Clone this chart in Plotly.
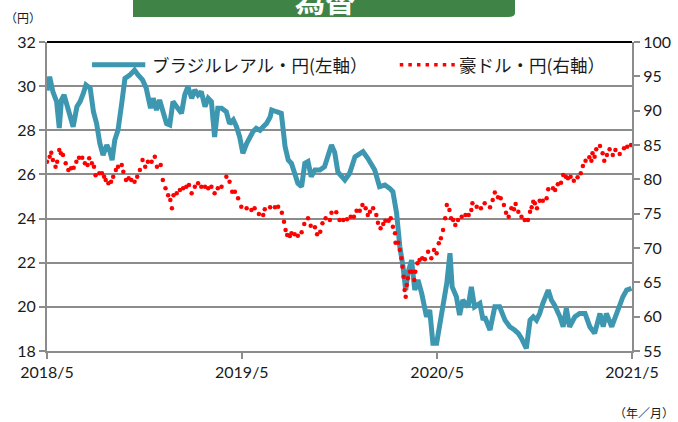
import plotly.graph_objects as go

# ブラジルレアル・円 (left axis)
brl_dates = [
    "2018-05-01","2018-05-06","2018-05-12","2018-05-19","2018-05-24","2018-05-28","2018-06-02","2018-06-07",
    "2018-06-13","2018-06-19","2018-06-26","2018-07-02","2018-07-08","2018-07-13","2018-07-21","2018-07-27",
    "2018-08-02","2018-08-08","2018-08-14","2018-08-21","2018-08-27","2018-08-31","2018-09-05","2018-09-11",
    "2018-09-18","2018-09-24","2018-10-03","2018-10-12","2018-10-19","2018-10-27","2018-11-03","2018-11-11",
    "2018-11-16","2018-11-22","2018-11-28","2018-12-04","2018-12-11","2018-12-17","2018-12-23","2018-12-30",
    "2019-01-08","2019-01-14","2019-01-20","2019-01-27","2019-02-02","2019-02-08","2019-02-14","2019-02-21",
    "2019-02-27","2019-03-05","2019-03-11","2019-03-17","2019-03-24","2019-04-02","2019-04-08","2019-04-15",
    "2019-04-21","2019-04-27","2019-05-03","2019-05-10","2019-05-16","2019-05-22","2019-05-28","2019-06-04",
    "2019-06-10","2019-06-16","2019-06-23","2019-06-26","2019-07-05","2019-07-14","2019-07-21","2019-07-27",
    "2019-08-02","2019-08-08","2019-08-14","2019-08-21","2019-08-27","2019-09-02","2019-09-08","2019-09-15",
    "2019-09-24","2019-10-03","2019-10-10","2019-10-16","2019-10-22","2019-10-28","2019-11-10","2019-11-19",
    "2019-11-29","2019-12-14","2019-12-23","2020-01-05","2020-01-14","2020-01-24","2020-02-02","2020-02-08",
    "2020-02-15","2020-02-21","2020-02-27","2020-03-03","2020-03-07","2020-03-14","2020-03-20","2020-03-26",
    "2020-04-02","2020-04-11","2020-04-17","2020-04-23","2020-04-30","2020-05-06","2020-05-12","2020-05-19",
    "2020-05-25","2020-05-29","2020-06-06","2020-06-12","2020-06-18","2020-06-28","2020-07-04","2020-07-10",
    "2020-07-20","2020-07-26","2020-07-29","2020-08-08","2020-08-17","2020-08-26","2020-09-05","2020-09-14",
    "2020-09-23","2020-09-30","2020-10-06","2020-10-15","2020-10-22","2020-10-28","2020-11-03","2020-11-09",
    "2020-11-15","2020-11-25","2020-12-01","2020-12-07","2020-12-17","2020-12-23","2020-12-29","2021-01-04",
    "2021-01-14","2021-01-23","2021-02-02","2021-02-11","2021-02-20","2021-03-02","2021-03-08","2021-03-14",
    "2021-03-24","2021-04-02","2021-04-08","2021-04-14","2021-04-21","2021-04-30",
]
brl_values = [
    29.8,30.43,29.75,29.3,28.1,29.37,29.6,29.15,
    28.6,28.16,29.07,29.3,29.67,30.05,29.9,28.84,
    28.3,27.4,26.88,27.33,27.03,26.65,27.56,28.0,
    29.22,30.35,30.5,30.73,30.5,30.28,29.9,29.0,
    29.45,28.92,29.37,28.77,28.3,28.24,29.3,29.07,
    28.77,29.6,29.98,29.45,29.83,29.6,29.75,29.07,
    29.45,29.3,27.7,29.0,29.0,28.84,28.3,28.47,
    28.16,27.7,26.96,27.4,27.7,27.94,28.09,28.0,
    28.16,28.3,28.6,28.92,28.84,28.77,27.26,26.65,
    26.5,26.05,25.6,25.45,26.5,26.58,25.9,26.2,
    26.2,26.35,26.96,27.33,27.0,26.1,25.75,26.05,
    26.8,27.03,26.73,26.2,25.45,25.52,25.37,25.22,
    24.24,22.73,21.82,20.76,21.52,22.12,20.76,21.22,
    20.61,19.55,19.86,18.35,18.35,19.26,20.31,21.07,
    22.43,20.91,20.46,19.63,20.31,20.0,20.91,20.0,
    20.16,19.4,19.55,18.95,20.0,20.0,19.4,19.1,
    18.95,18.8,18.57,18.12,19.4,19.55,19.4,19.7,
    20.16,20.76,20.31,20.08,19.55,19.1,19.93,19.1,
    19.55,19.7,19.7,19.1,18.8,19.7,19.1,19.7,
    19.1,19.7,20.0,20.46,20.76,20.84,
]

# 豪ドル・円 (right axis)
aud_dates = [
    "2018-05-01","2018-05-06","2018-05-09","2018-05-12","2018-05-17","2018-05-20","2018-05-24","2018-05-27",
    "2018-05-31","2018-06-05","2018-06-10","2018-06-15","2018-06-20","2018-06-25","2018-06-30","2018-07-06",
    "2018-07-11","2018-07-16","2018-07-19","2018-07-24","2018-07-28","2018-07-31","2018-08-07","2018-08-12",
    "2018-08-16","2018-08-19","2018-08-24","2018-08-29","2018-09-02","2018-09-07","2018-09-11","2018-09-18",
    "2018-09-21","2018-09-26","2018-10-01","2018-10-06","2018-10-12","2018-10-17","2018-10-22","2018-10-27",
    "2018-11-01","2018-11-06","2018-11-13","2018-11-19","2018-11-23","2018-11-30","2018-12-04","2018-12-09",
    "2018-12-14","2018-12-18","2018-12-21","2018-12-24","2018-12-30","2019-01-05","2019-01-11","2019-01-17",
    "2019-01-22","2019-01-27","2019-02-02","2019-02-08","2019-02-14","2019-02-21","2019-02-27","2019-03-05",
    "2019-03-11","2019-03-17","2019-03-24","2019-04-02","2019-04-08","2019-04-13","2019-04-18","2019-04-24",
    "2019-04-30","2019-05-10","2019-05-19","2019-05-25","2019-06-02","2019-06-10","2019-06-13","2019-06-23",
    "2019-07-02","2019-07-08","2019-07-15","2019-07-19","2019-07-22","2019-07-25","2019-07-30","2019-08-02",
    "2019-08-08","2019-08-14","2019-08-21","2019-08-26","2019-09-02","2019-09-07","2019-09-15","2019-09-19",
    "2019-09-25","2019-09-29","2019-10-05","2019-10-13","2019-10-16","2019-10-25","2019-10-31","2019-11-07",
    "2019-11-14","2019-11-21","2019-11-27","2019-12-02","2019-12-08","2019-12-13","2019-12-19","2019-12-23",
    "2019-12-27","2020-01-02","2020-01-08","2020-01-11","2020-01-16","2020-01-21","2020-01-25","2020-01-31",
    "2020-02-04","2020-02-08","2020-02-12","2020-02-13","2020-02-18","2020-02-21","2020-02-24","2020-02-26",
    "2020-02-28","2020-03-01","2020-03-03","2020-03-05","2020-03-07","2020-03-11","2020-03-15","2020-03-19",
    "2020-03-21","2020-03-25","2020-03-29","2020-04-03","2020-04-08","2020-04-14","2020-04-20","2020-04-25",
    "2020-04-30","2020-05-04","2020-05-08","2020-05-12","2020-05-16","2020-05-19","2020-05-24","2020-05-27",
    "2020-05-31","2020-06-04","2020-06-09","2020-06-16","2020-06-23","2020-06-29","2020-07-04","2020-07-06",
    "2020-07-14","2020-07-22","2020-07-29","2020-08-08","2020-08-13","2020-08-17","2020-08-23","2020-08-28",
    "2020-09-03","2020-09-07","2020-09-12","2020-09-17","2020-09-22","2020-09-25","2020-09-30","2020-10-06",
    "2020-10-12","2020-10-18","2020-10-22","2020-10-25","2020-10-28","2020-10-31","2020-11-04","2020-11-09",
    "2020-11-15","2020-11-22","2020-11-25","2020-12-04","2020-12-08","2020-12-13","2020-12-19","2020-12-23",
    "2020-12-28","2021-01-01","2021-01-06","2021-01-12","2021-01-19","2021-01-25","2021-01-29","2021-02-03",
    "2021-02-10","2021-02-14","2021-02-16","2021-02-20","2021-02-23","2021-03-02","2021-03-07","2021-03-10",
    "2021-03-15","2021-03-20","2021-03-26","2021-03-31","2021-04-08","2021-04-16","2021-04-22","2021-04-29",
]
aud_values = [
    82.57,83.3,83.88,82.8,81.84,82.57,84.27,83.8,
    83.55,82.33,81.36,81.6,81.7,82.57,83.15,83.15,
    82.33,82.1,83.06,82.33,81.84,80.6,80.88,80.88,
    80.39,79.9,79.42,79.66,80.39,81.36,81.84,82.1,
    81.11,79.9,80.15,79.9,79.66,80.39,81.36,82.8,
    81.84,82.57,82.57,83.3,81.84,82.1,79.9,78.7,
    77.7,76.99,75.78,77.7,77.97,78.45,78.7,78.93,
    79.18,77.97,78.93,79.42,78.93,78.93,78.7,78.93,
    77.97,78.7,78.93,80.39,79.66,78.2,78.2,77.24,
    76.02,75.78,75.54,75.78,74.95,74.8,75.63,75.92,
    75.92,76.02,75.14,73.83,72.62,71.9,71.75,72.14,
    72.0,71.79,72.29,73.5,74.33,73.25,73.01,72.0,
    72.38,73.6,74.33,74.08,75.14,75.2,74.08,74.08,
    74.18,74.56,74.56,75.43,75.43,76.26,75.78,74.8,
    75.29,75.78,74.8,73.69,72.87,73.5,73.98,73.98,
    74.33,73.1,72.14,70.77,70.77,69.71,68.5,67.28,
    65.82,63.88,62.9,64.6,65.59,66.55,66.55,65.34,
    66.55,67.77,68.25,68.5,68.36,69.46,68.5,69.71,
    69.23,70.68,71.41,72.62,74.33,76.26,75.54,74.33,
    74.08,73.35,74.08,74.56,74.8,74.8,75.54,76.51,
    76.02,75.78,76.51,75.92,76.99,78.1,77.38,77.24,
    76.26,75.14,74.56,75.78,75.63,76.4,75.29,74.56,
    74.08,74.08,75.29,75.92,76.75,76.51,75.78,76.89,
    76.89,77.24,78.55,78.7,78.45,79.28,79.52,80.63,
    80.39,80.15,80.39,79.81,80.29,80.88,81.94,82.71,
    83.2,82.71,83.79,83.3,84.37,84.85,83.79,82.71,
    83.55,84.37,83.55,84.27,83.69,84.52,84.76,85.0,
]

x_tick_vals = ["2018-05-01", "2019-05-01", "2020-05-01", "2021-05-01"]
x_tick_text = ["2018/5", "2019/5", "2020/5", "2021/5"]
left_ticks = [18, 20, 22, 24, 26, 28, 30, 32]
right_ticks = [55, 60, 65, 70, 75, 80, 85, 90, 95, 100]

name_brl = "ブラジルレアル・円(左軸）"
name_aud = "豪ドル・円(右軸）"
title_text = "為替"
unit_left = "（円）"
unit_x = "（年／月）"

BLUE = "#3d97b1"
RED = "#ff0000"
GRID = "#8c8c8c"
TXT = "#1a1a1a"
FONT = "Lato, 'Noto Sans CJK JP', sans-serif"
CJK = "'Noto Sans CJK JP', sans-serif"

fig = go.Figure()
fig.add_trace(go.Scatter(
    x=brl_dates, y=brl_values, mode="lines", name=name_brl,
    line=dict(color=BLUE, width=5), yaxis="y", showlegend=False,
))
fig.add_trace(go.Scatter(
    x=aud_dates, y=aud_values, mode="markers", name=name_aud,
    marker=dict(color=RED, size=4.5), yaxis="y2", showlegend=False,
))

axis_common = dict(
    showline=True, linecolor=GRID, linewidth=2,
    ticks="outside", ticklen=6, tickcolor=GRID, tickwidth=1.5,
    tickfont=dict(size=16, color=TXT), zeroline=False, automargin=False,
)

fig.update_layout(
    width=678, height=422,
    margin=dict(l=47, r=46, t=42, b=71, autoexpand=False),
    paper_bgcolor="white", plot_bgcolor="white",
    font=dict(family=FONT, size=16, color=TXT),
    showlegend=False,
    xaxis=dict(
        type="date", range=["2018-05-01", "2021-05-01"],
        tickvals=x_tick_vals, ticktext=x_tick_text, showgrid=False,
        **axis_common,
    ),
    yaxis=dict(
        range=[18, 32], tickvals=left_ticks,
        showgrid=True, gridcolor=GRID, gridwidth=1.5,
        **axis_common,
    ),
    yaxis2=dict(
        range=[55, 100], tickvals=right_ticks, overlaying="y", side="right",
        showgrid=False, **axis_common,
    ),
    shapes=[
        # top frame line
        dict(type="line", xref="paper", yref="paper", x0=0, x1=1, y0=1, y1=1,
             line=dict(color="#000000", width=2), layer="above"),
        # green title band (cut at the top of the picture)
        dict(type="path", xref="paper", yref="paper",
             path="M 0.147 1.2 L 0.8 1.2 L 0.8 1.095 Q 0.8 1.081 0.788 1.081 L 0.147 1.081 Z",
             fillcolor="#3f8446", line=dict(width=0)),
        # legend samples
        dict(type="line", xref="paper", yref="paper", x0=0.077, x1=0.168, y0=0.926, y1=0.926,
             line=dict(color=BLUE, width=5)),
        dict(type="line", xref="paper", yref="paper", x0=0.603, x1=0.697, y0=0.926, y1=0.926,
             line=dict(color=RED, width=3.5, dash="3.5px,5.1px")),
    ],
    annotations=[
        dict(text="<b>" + title_text + "</b>", xref="paper", yref="paper", x=0.475, y=1.139,
             xanchor="center", yanchor="middle", showarrow=False,
             font=dict(family=CJK, size=30, color="white")),
        dict(text=unit_left, xref="paper", yref="paper", x=-0.075, y=1.08,
             xanchor="left", yanchor="middle", showarrow=False,
             font=dict(family=CJK, size=12, color=TXT)),
        dict(text=unit_x, xref="paper", yref="paper", x=1.075, y=-0.2,
             xanchor="right", yanchor="middle", showarrow=False,
             font=dict(family=CJK, size=12, color=TXT)),
        dict(text=name_brl, xref="paper", yref="paper", x=0.176, y=0.926,
             xanchor="left", yanchor="middle", showarrow=False,
             font=dict(family=CJK, size=17.5, color=TXT)),
        dict(text=name_aud, xref="paper", yref="paper", x=0.7, y=0.926,
             xanchor="left", yanchor="middle", showarrow=False,
             font=dict(family=CJK, size=17.5, color=TXT)),
    ],
)

fig.write_html("out.html", config={"displayModeBar": False},
               post_script="document.body.style.margin='0';")
